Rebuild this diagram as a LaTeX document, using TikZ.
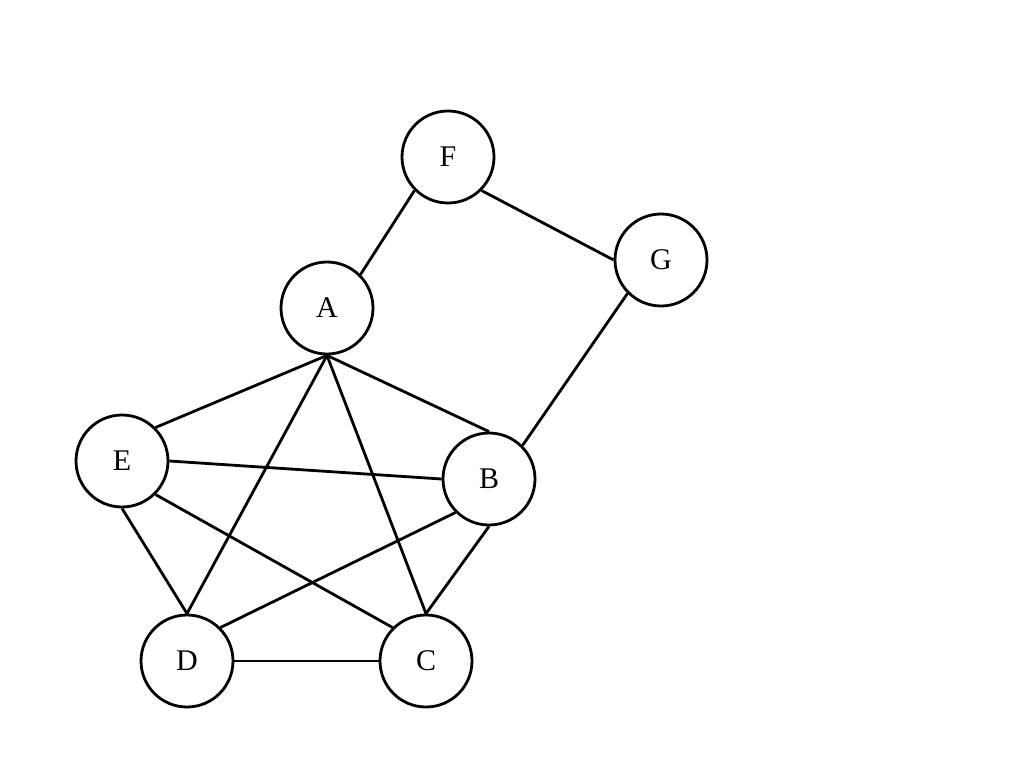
\documentclass[tikz,border=0pt]{standalone}
\usepackage{fontspec}
\setmainfont{Liberation Serif}
\begin{document}
\begin{tikzpicture}[x=1pt,y=-1pt,
  vertex/.style={circle,draw,line width=2.8pt,inner sep=0pt,minimum size=92pt,
    font=\fontsize{30}{35}\selectfont},
  edge/.style={line width=2.8pt}]
\useasboundingbox (0,0) rectangle (1024,768);
\node[vertex] (F) at (448,157) {F};
\node[vertex] (G) at (661,260) {G};
\node[vertex] (A) at (327,308) {A};
\node[vertex] (E) at (122,461) {E};
\node[vertex] (B) at (489,479) {B};
\node[vertex] (D) at (187,661) {D};
\node[vertex] (C) at (426,661) {C};
\draw[edge] (A.north east) -- (F.south west);
\draw[edge] (F.south east) -- (G.west);
\draw[edge] (G.south west) -- (B.north east);
\draw[edge] (A.south) -- (E.north east);
\draw[edge] (A.south) -- (B.north);
\draw[edge] (A.south) -- (D.north);
\draw[edge] (A.south) -- (C.north);
\draw[edge] (E.east) -- (B.west);
\draw[edge] (E.south) -- (D.north);
\draw[edge] (E.south east) -- (C.north west);
\draw[edge] (B.south west) -- (D.north east);
\draw[edge] (B.south) -- (C.north);
\draw[edge] (D.east) -- (C.west);
\end{tikzpicture}
\end{document}
